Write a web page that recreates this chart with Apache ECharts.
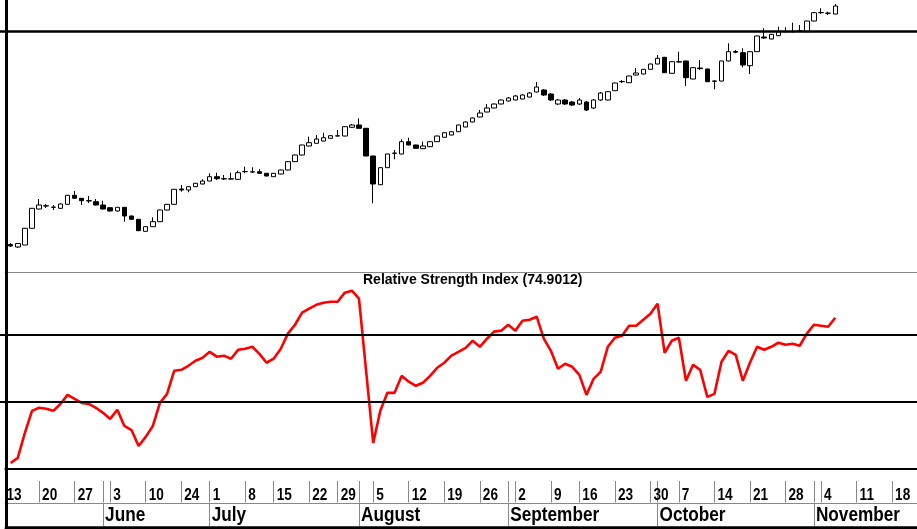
<!DOCTYPE html>
<html>
<head>
<meta charset="utf-8">
<script src="https://cdn.jsdelivr.net/npm/echarts@6/dist/echarts.min.js"></script>
<style>html,body{margin:0;padding:0;background:#fff}#c{width:917px;height:529px}</style>
</head>
<body>
<div id="c"></div>
<script>
const slotCount = 129;
const dayLabels = ['13','20','27','3','10','24','1','8','15','22','29','5','12','19','26','2','9','16','23','30','7','14','21','28','4','11','18'];
const daySlots = [0,5,10,15,20,25,29,34,38,43,47,52,57,62,67,72,77,81,86,91,95,100,105,110,115,120,125];
const monthLabels = ['June','July','August','September','October','November'];
const monthSlots = [14,29,50,71,92,114];

const open = [null,27.5,25,27,43.7,63,66,64.7,63.7,67.7,76.7,73.7,71.3,70.3,67,64.3,61,64.7,56,52.7,
40.7,45.3,50.3,62,67.7,83,82,85.3,88,91,95.3,93.3,93,92.7,100.3,100,100.3,98.7,95.3,98,
102,110.3,117,126,128.7,131,133.7,136,136,144.7,147,143.7,116,87.3,104.3,118.7,118,130.3,127,123.3,
125.3,130.3,134.7,137,140.3,145,150,155,160,164,168,171,172,173,175,180,182,178,168,172,
170,168,170,164,172,172,181.3,190.3,189.3,197,198,202.7,208,214.7,198.7,210.3,211,193,204,203,
191,191,211,220.5,219.3,206.3,220.3,235,233,236.3,240.3,240.3,241,240.3,251,259.3,258.7,258];
const close = [null,26,28.5,43.7,63.7,67,66.2,64.9,68,76.7,73.7,71.3,71.1,67,63,61,64.7,56,52.7,41.3,
45.3,50.3,62,67.7,82.7,82,85.3,88.7,91,95.3,93.3,93.1,93.2,99.3,100.5,100.2,98.7,96,98.7,102,
110.3,117,127,129.3,133,134.3,136.3,136.2,145.3,147,143.7,116,88,104.3,118,118.9,130.3,127,123.7,126,
130.3,136,139.3,140.3,147,150,154,159,164,168,172,174,176,177,179,185,177,172,172,168,
167,172,162,172,179,180.3,189,190.5,196,199,202.7,208,213.7,199.3,210.3,210,194.3,204.3,203.4,190.3,
190.8,211,220.3,219.8,207,220.3,236,234,237.7,240.3,240.5,240.5,241.2,251,259.3,259.5,258.9,266];
const low = [null,25,24,27,43.7,62.5,64,62,63,67.5,73.5,67,69,66.5,62.5,60.5,60.5,50.3,52,41,
40.3,45,50,61.7,67.5,80.3,79.7,85,87.7,90.7,92,92,92.5,92.5,98.7,99,98.5,95.7,95,97.7,
101.7,110,116.7,125.7,128.5,130.7,133.5,135.5,135.7,144.5,143.5,115.7,68.7,87,104,112.7,117.7,126.7,123.5,123,
125,130,134.5,136.7,140,144.7,149.7,154.7,159.7,163.7,167.7,170.7,171.7,172.7,174.7,179.7,176,171,167,167,
166,167,161,163,171,171.7,181,189,189,196.5,197.7,202.5,207.7,199,198.5,209.5,186,192.7,202,190,
182.7,190.7,210.7,218.7,204.7,198,220,233,232.7,236,239.7,239.7,240.5,240,250.7,258,257,257.7];
const high = [null,29,29,44,64,73,68,67,68.5,77,81,74,76,73,71.3,64.8,65,65,56.5,53,
45.7,54.7,62.3,68,83,87,85.7,89,92.7,98.7,99.3,97,99.3,101.3,105.3,104.7,102.7,99,99,102.3,
110.7,117.3,127.3,135.3,137,139.3,136.7,142,145.7,148,153.7,144,116.3,104.7,118.3,122,132.7,134.3,127.3,130.3,
130.7,136.3,139.7,140.7,147.3,150.5,154.5,162,168,168.5,172.5,175,177,178,180,190,183,179,173,173,
171,174,171,173,180,180.7,189.3,192,196.3,204,203,208.3,217,215,210.7,220.3,211.3,204.7,212,203.3,
191.5,211.3,228.7,222,223.7,220.7,236.3,243.7,238,245.3,244.7,249.3,247,251.3,259.7,263.7,260.3,268];
const rsi = [null,3,5.5,17.9,28.8,30.3,29.8,28.8,32.2,36.7,34.7,32.7,32.2,30.3,27.8,24.8,29.3,21.3,19.3,11.4,
15.9,21.3,32.7,37.2,48.6,49.1,51.1,53.6,55.1,58,55.6,56.1,54.6,59,59.5,60.5,57,52.6,54.6,59.5,
67,71.4,77.4,79.4,81.3,82.3,82.8,82.8,87.3,88.3,84.3,48.6,12.9,28.8,37.7,37.7,46.1,43.2,41.2,42.7,
46.1,50.1,52.6,56.1,58,60,63.5,60.5,64.5,68,68.5,71.4,68.5,73.4,73.9,75.4,64.5,58.5,49.6,52.1,
50.6,46.6,36.7,44.6,48.1,60.5,65,66,70.9,70.9,73.9,76.9,81.8,57.5,63.5,65,43.7,51.6,49.1,35.7,
37.2,53.1,58.5,56.5,43.7,52.6,60.5,59,60.5,62.5,61.5,62,61,67,71.4,70.9,70.4,74.9];
const rsiTitle = 'Relative Strength Index (74.9012)';
const rsiUpper = 66.67, rsiLower = 33.33;
const resistance = 241;

const categories = [];
for (let i = 0; i < slotCount; i++) categories.push(String(i));
const dayMap = {}; daySlots.forEach((s, k) => dayMap[s] = dayLabels[k]);
const monthMap = {}; monthSlots.forEach((s, k) => monthMap[s] = monthLabels[k]);
const candles = open.map((o, i) => o == null ? '-' : [o, close[i], low[i], high[i]]);

const chart = echarts.init(document.getElementById('c'), null, {renderer: 'canvas'});
const hidden = {show: false};
chart.setOption({
  animation: false,
  backgroundColor: '#fff',
  title: {text: rsiTitle, left: 363, top: 273, padding: 0,
    textStyle: {fontFamily: 'Liberation Sans', fontWeight: 'bold', fontSize: 14, color: '#000'}},
  grid: [
    {left: 0, width: 917, top: 0, height: 273, outerBoundsMode: 'none', containLabel: false},
    {left: 0, width: 917, top: 267, height: 202, outerBoundsMode: 'none', containLabel: false},
    {left: 6.3, width: 912, top: 0, height: 527.3, outerBoundsMode: 'none', containLabel: false}
  ],
  xAxis: [
    {type: 'category', gridIndex: 0, data: categories, boundaryGap: true,
      axisLine: {show: true, lineStyle: {color: '#888', width: 1}}, axisTick: hidden, axisLabel: hidden, splitLine: hidden},
    {type: 'category', gridIndex: 1, data: categories, boundaryGap: true,
      axisLine: {show: true, lineStyle: {color: '#000', width: 2}}, axisTick: hidden, axisLabel: hidden, splitLine: hidden},
    {type: 'category', gridIndex: 1, data: categories, boundaryGap: true, position: 'bottom', offset: 12,
      axisLine: hidden,
      axisTick: {show: true, alignWithLabel: true, length: 21.5, lineStyle: {color: '#888', width: 1},
        interval: (i) => dayMap[i] !== undefined || monthMap[i] !== undefined},
      axisLabel: hidden, splitLine: hidden},
    {type: 'category', gridIndex: 1, data: categories, boundaryGap: true, position: 'bottom', offset: 34,
      axisLine: {show: true, lineStyle: {color: '#888', width: 1}},
      axisTick: {show: true, alignWithLabel: true, length: 23, lineStyle: {color: '#888', width: 1},
        interval: (i) => monthMap[i] !== undefined},
      axisLabel: hidden, splitLine: hidden},
    {type: 'value', gridIndex: 2, min: 0, max: 1, z: 10,
      axisLine: {show: true, onZero: false, lineStyle: {color: '#000', width: 3.5}}, axisTick: hidden, axisLabel: hidden, splitLine: hidden}
  ],
  yAxis: [
    {type: 'value', gridIndex: 0, min: -1, max: 272, axisLine: hidden, axisTick: hidden, axisLabel: hidden, splitLine: hidden},
    {type: 'value', gridIndex: 1, min: 0, max: 100, axisLine: hidden, axisTick: hidden, axisLabel: hidden, splitLine: hidden},
    {type: 'value', gridIndex: 2, min: 0, max: 1, z: 10,
      axisLine: {show: true, onZero: false, lineStyle: {color: '#000', width: 3}}, axisTick: hidden, axisLabel: hidden, splitLine: hidden}
  ],
  series: [
    {type: 'candlestick', xAxisIndex: 0, yAxisIndex: 0, data: candles, barWidth: 5,
      itemStyle: {color: '#fff', color0: '#000', borderColor: '#000', borderColor0: '#000', borderWidth: 1},
      markLine: {silent: true, symbol: 'none', label: hidden, lineStyle: {color: '#000', width: 2.5, type: 'solid'},
        data: [{yAxis: resistance}]}},
    {type: 'line', xAxisIndex: 1, yAxisIndex: 1, data: rsi, showSymbol: false, symbol: 'none',
      lineStyle: {color: '#ff0000', width: 2.6},
      markLine: {silent: true, symbol: 'none', label: hidden, lineStyle: {color: '#000', width: 2, type: 'solid'},
        data: [{yAxis: rsiUpper}, {yAxis: rsiLower}]}}
  ]
});

// axis labels in a condensed bold face, placed at the category axis' own tick positions
const labelEls = [];
daySlots.forEach((s, k) => {
  const px = chart.convertToPixel({xAxisIndex: 2}, s);
  labelEls.push({type: 'text', x: px + 3, y: 495, scaleX: 0.8, scaleY: 1, z: 5,
    style: {text: dayLabels[k], font: 'bold 17px "Liberation Sans"', fill: '#000', textAlign: 'left', textVerticalAlign: 'middle'}});
});
monthSlots.forEach((s, k) => {
  const px = chart.convertToPixel({xAxisIndex: 3}, s);
  labelEls.push({type: 'text', x: px + 2, y: 515.3, scaleX: 0.86, scaleY: 1, z: 5,
    style: {text: monthLabels[k], font: 'bold 20px "Liberation Sans"', fill: '#000', textAlign: 'left', textVerticalAlign: 'middle'}});
});
labelEls.push({type: 'rect', shape: {x: 0, y: 0, width: 4.6, height: 529}, z: 4, style: {fill: '#fff'}});
chart.setOption({graphic: labelEls});
</script>
</body>
</html>
